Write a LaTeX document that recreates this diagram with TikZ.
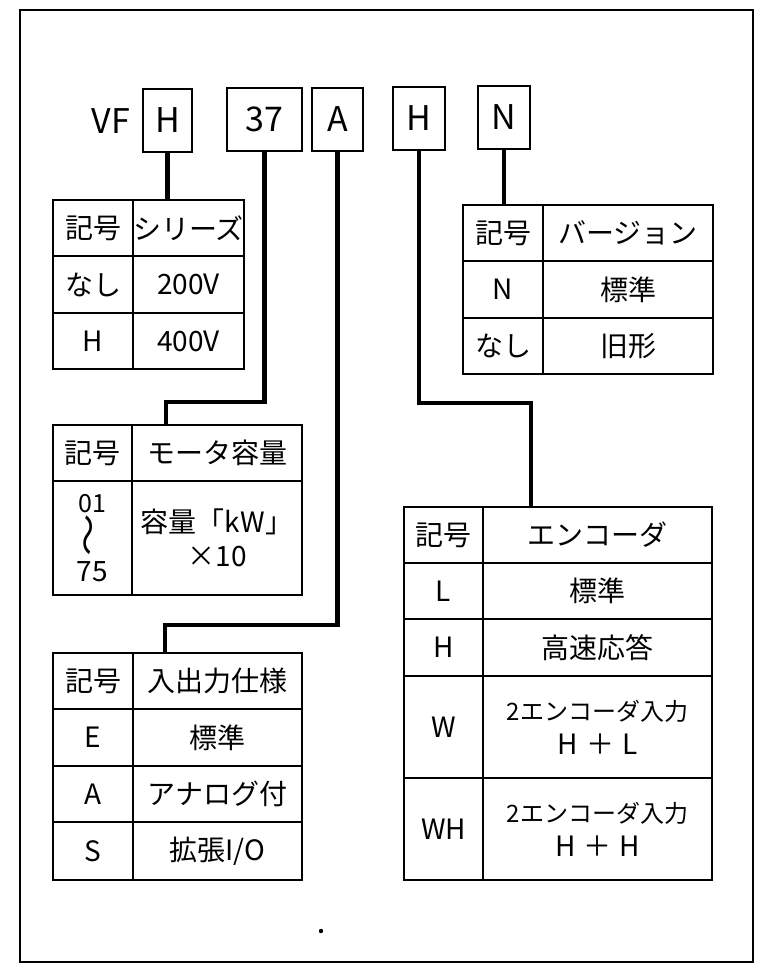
\documentclass[tikz,border=0pt]{standalone}
\usepackage{fontspec}
\usepackage{graphicx}
\setmainfont{Noto Sans CJK JP}
\newcommand\fsA{\fontsize{28}{34}\selectfont}
\newcommand\fsB{\fontsize{24}{41}\selectfont}
\newcommand\fsC{\fontsize{34}{40}\selectfont}
\newcommand\tcell[6]{\node[cellbox, minimum width={#4-#2}, minimum height={#5-#3}] (#1) at ({(#2+#4)/2},{(#3+#5)/2}) {#6};}
\tikzset{
  cellbox/.style={draw, line width=1.6pt, inner sep=0pt, outer sep=0pt, align=center, font=\fsA},
  codebox/.style={draw, line width=2pt, inner sep=0pt, outer sep=0pt, font=\fsC},
  codetext/.style={inner sep=0pt, font=\fsC},
  conn/.style={line width=4.5pt},
  frame/.style={line width=2.2pt}
}
\begin{document}
\begin{tikzpicture}[x=1pt,y=-1pt]
\useasboundingbox (0,0) rectangle (761,965);
\draw[frame] (20,10) rectangle (753,962);
% code row
\node[codetext] (vf) at (111,121) {VF};
\node[codebox, minimum width=49, minimum height=63] (bH) at (167.5,120.5) {H};
\node[codebox, minimum width=75, minimum height=63] (b37) at (264.5,119.5) {37};
\node[codebox, minimum width=51, minimum height=63] (bA) at (337.5,119.5) {A};
\node[codebox, minimum width=52, minimum height=63] (bH2) at (419,118.5) {H};
\node[codebox, minimum width=52, minimum height=63] (bN) at (504,117.5) {N};
% table 1 : series
\tcell{t1a}{53}{200}{133}{256}{記号}
\tcell{t1b}{133}{200}{244}{256}{シリーズ}
\tcell{t1c}{53}{256}{133}{313}{なし}
\tcell{t1d}{133}{256}{244}{313}{200V}
\tcell{t1e}{53}{313}{133}{369}{H}
\tcell{t1f}{133}{313}{244}{369}{400V}
% table 2 : motor capacity
\tcell{t2a}{53}{425}{132}{481}{記号}
\tcell{t2b}{132}{425}{302}{481}{モータ容量}
\tcell{t2c}{53}{481}{132}{595}{\fontsize{25}{34}\selectfont 01\\[35pt]75}
\node[rotate=90, inner sep=0pt, font=\fontsize{25}{30}\selectfont] (wave) at ([yshift=3pt]t2c.center) {\scalebox{1.7}[1.3]{〜}};
\tcell{t2d}{132}{481}{302}{595}{\fontsize{28}{44}\selectfont 容量「kW」\\×10}
% table 3 : I/O
\tcell{t3a}{53}{653}{133}{709}{記号}
\tcell{t3b}{133}{653}{302}{709}{入出力仕様}
\tcell{t3c}{53}{709}{133}{766}{E}
\tcell{t3d}{133}{709}{302}{766}{標準}
\tcell{t3e}{53}{766}{133}{822}{A}
\tcell{t3f}{133}{766}{302}{822}{アナログ付}
\tcell{t3g}{53}{822}{133}{880}{S}
\tcell{t3h}{133}{822}{302}{880}{拡張I/O}
% table 4 : version
\tcell{t4a}{463}{205}{543}{261}{記号}
\tcell{t4b}{543}{205}{713}{261}{バージョン}
\tcell{t4c}{463}{261}{543}{318}{N}
\tcell{t4d}{543}{261}{713}{318}{標準}
\tcell{t4e}{463}{318}{543}{374}{なし}
\tcell{t4f}{543}{318}{713}{374}{旧形}
% table 5 : encoder
\tcell{t5a}{404}{507}{483}{563}{記号}
\tcell{t5b}{483}{507}{712}{563}{エンコーダ}
\tcell{t5c}{404}{563}{483}{619}{L}
\tcell{t5d}{483}{563}{712}{619}{標準}
\tcell{t5e}{404}{619}{483}{676}{H}
\tcell{t5f}{483}{619}{712}{676}{高速応答}
\tcell{t5g}{404}{676}{483}{778}{W}
\tcell{t5h}{483}{676}{712}{778}{\fsB 2エンコーダ入力\\H\hspace{8pt}＋\hspace{8pt}L}
\tcell{t5i}{404}{778}{483}{880}{WH}
\tcell{t5j}{483}{778}{712}{880}{\fsB 2エンコーダ入力\\H\hspace{8pt}＋\hspace{8pt}H}
% connectors
\coordinate (e37) at (166,402);
\coordinate (eA) at (165,625);
\coordinate (eH) at (531,403);
\draw[conn] (bH.south) -- (bH.south |- t1a.north);
\draw[conn] (b37.south) |- (e37) -- (e37 |- t2a.north);
\draw[conn] (bA.south) |- (eA) -- (eA |- t3a.north);
\draw[conn] (bH2.south) |- (eH) -- (eH |- t5a.north);
\draw[conn] (bN.south) -- (bN.south |- t4a.north);
% speck
\fill (321,931) circle (2.2);
\end{tikzpicture}
\end{document}
